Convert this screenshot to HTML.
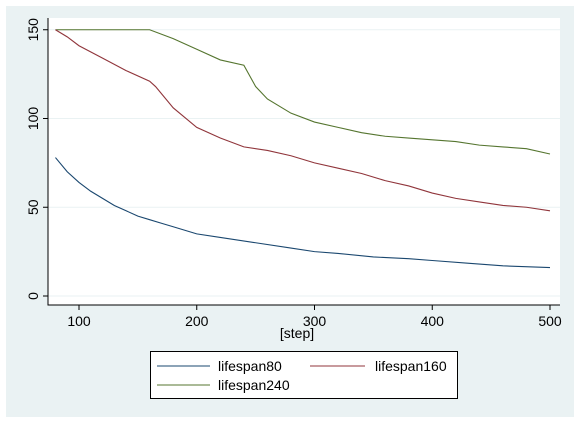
<!DOCTYPE html>
<html><head><meta charset="utf-8"><style>
body{margin:0;background:#fff;}
text{font-family:"Liberation Sans",Arial,sans-serif;}
</style></head><body>
<svg id="chart" width="580" height="424" xmlns="http://www.w3.org/2000/svg">
<rect x="6" y="6" width="568" height="411" fill="#eaf2f3"/>
<rect x="48" y="18" width="512" height="287" fill="#fff"/>
<g id="grid"></g><g id="axes"></g><g id="series"></g>
<text x="297" y="338" font-size="14" text-anchor="middle">[step]</text>
<g>
<rect x="150.5" y="351.5" width="307" height="47" fill="#fff" stroke="#000"/>
<line x1="157" y1="366" x2="210" y2="366" stroke="#1a476f"/>
<text x="218" y="371" font-size="14">lifespan80</text>
<line x1="310" y1="366" x2="365" y2="366" stroke="#90353b"/>
<text x="375" y="371" font-size="14">lifespan160</text>
<line x1="157" y1="385" x2="210" y2="385" stroke="#55752f"/>
<text x="218" y="390" font-size="14">lifespan240</text>
</g>
</svg>
<script>
const yTicks=[0,50,100,150];
const xTicks=[100,200,300,400,500];
const steps80=[80,90,100,110,120,130,140,150,160,170,180,200,220,250,280,300,320,350,380,400,430,460,500];
const vals80=[78,70,64,59,55,51,48,45,43,41,39,35,33,30,27,25,24,22,21,20,18.5,17,16];
const steps160=[80,90,100,120,140,160,165,180,200,220,240,260,280,300,320,340,360,380,400,420,440,460,480,500];
const vals160=[150,146,141,134,127,121,118,106,95,89,84,82,79,75,72,69,65,62,58,55,53,51,50,48];
const steps240=[80,160,180,200,220,240,245,250,260,280,300,320,340,360,380,400,420,440,460,480,500];
const vals240=[150,150,145,139,133,130,124,118,111,103,98,95,92,90,89,88,87,85,84,83,80];
const NS="http://www.w3.org/2000/svg";
const xS=v=>79+(v-100)*1.1775;
const yS=v=>296-v*1.775;
function mk(tag,attrs,parent){const e=document.createElementNS(NS,tag);for(const k in attrs)e.setAttribute(k,attrs[k]);parent.appendChild(e);return e;}
const grid=document.getElementById('grid'),axes=document.getElementById('axes'),ser=document.getElementById('series');
yTicks.forEach(t=>{
 const g=mk('line',{x1:48,x2:560,y1:yS(t),y2:yS(t),stroke:'#eaf2f3'},grid);
 
 
 const tk=mk('line',{x1:43,x2:48,y1:yS(t),y2:yS(t),stroke:'#000'},axes);
 
 
 const tx=mk('text',{x:0,y:0,'font-size':14,'text-anchor':'middle',transform:`translate(38,${yS(t)}) rotate(-90)`},axes);
 tx.textContent=t;
 
 
});
xTicks.forEach(t=>{
 const tk=mk('line',{x1:xS(t),x2:xS(t),y1:305,y2:310,stroke:'#000'},axes);
 
 
 const tx=mk('text',{x:xS(t),y:326,'font-size':14,'text-anchor':'middle'},axes);
 tx.textContent=t;
 
 
});
const ya=mk('line',{x1:48,x2:48,y1:18,y2:305.5,stroke:'#000'},axes);


const xa=mk('line',{x1:48,x2:560,y1:305,y2:305,stroke:'#000'},axes);


function line(xs,ys,color,name){
 const p=mk('polyline',{points:xs.map((x,i)=>xS(x)+','+yS(ys[i])).join(' '),fill:'none',stroke:color,'stroke-width':1.1},ser);
 
 
}
line(steps240,vals240,'#55752f','series-lifespan240');
line(steps160,vals160,'#90353b','series-lifespan160');
line(steps80,vals80,'#1a476f','series-lifespan80');
</script>
</body></html>
